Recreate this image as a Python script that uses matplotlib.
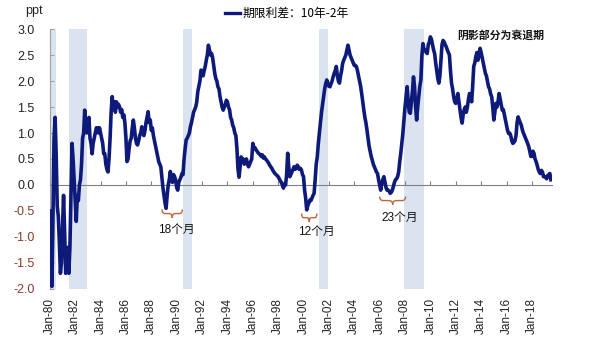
import matplotlib
matplotlib.use("Agg")
import matplotlib.pyplot as plt
from matplotlib.lines import Line2D
from matplotlib.path import Path
from matplotlib.patches import PathPatch
from matplotlib.font_manager import FontProperties

plt.rcParams["font.family"] = ["Liberation Sans", "Noto Sans CJK SC", "DejaVu Sans"]

# Monthly 10y - 2y Treasury spread (percentage points), Jan 1980 onward
start_year = 1980
spread = [
    -0.50, -1.40, -1.95, -0.60, 0.90, 1.30, 0.60, -0.40, -0.60, -1.10, -1.70, -1.50,   # 1980
    -0.80, -0.20, -0.90, -1.70, -1.50, -1.20, -1.70, -1.20, -0.20, 0.80, 0.50, 0.10,   # 1981
    -0.30, -0.70, -0.20, -0.30, 0.00, 0.10, 0.40, 0.90, 1.00, 1.44, 1.10, 1.00,        # 1982
    1.20, 1.30, 0.90, 0.80, 0.60, 0.80, 0.90, 1.00, 1.10, 1.10, 1.00, 1.10,            # 1983
    1.00, 0.90, 0.80, 0.60, 0.60, 0.40, 0.30, 0.25, 0.50, 0.90, 1.40, 1.70,            # 1984
    1.50, 1.60, 1.40, 1.60, 1.50, 1.55, 1.50, 1.40, 1.45, 1.30, 1.35, 1.20,            # 1985
    0.90, 0.45, 0.50, 0.70, 0.85, 0.90, 1.10, 1.25, 1.10, 0.90, 0.80, 0.77,            # 1986
    0.85, 0.95, 1.00, 1.12, 1.00, 0.95, 1.05, 1.20, 1.30, 1.41, 1.20, 1.25,            # 1987
    1.05, 1.10, 0.95, 0.85, 0.74, 0.65, 0.55, 0.45, 0.40, 0.35, 0.15, -0.05,           # 1988
    -0.20, -0.35, -0.45, -0.20, 0.00, 0.10, 0.26, 0.10, 0.05, 0.20, 0.16, 0.10,        # 1989
    -0.05, -0.10, 0.05, 0.10, 0.15, 0.22, 0.20, 0.50, 0.70, 0.87, 0.90, 0.95,          # 1990
    1.00, 1.12, 1.20, 1.30, 1.40, 1.45, 1.50, 1.60, 1.80, 1.90, 2.00, 2.21,            # 1991
    2.20, 2.10, 2.20, 2.28, 2.40, 2.50, 2.69, 2.60, 2.50, 2.53, 2.45, 2.30,            # 1992
    2.15, 2.05, 2.00, 1.89, 1.85, 1.70, 1.60, 1.50, 1.44, 1.50, 1.55, 1.63,            # 1993
    1.60, 1.50, 1.45, 1.30, 1.25, 1.15, 1.10, 1.00, 0.95, 0.70, 0.30, 0.15,            # 1994
    0.35, 0.54, 0.45, 0.50, 0.40, 0.45, 0.50, 0.40, 0.35, 0.40, 0.45, 0.50,            # 1995
    0.80, 0.70, 0.72, 0.68, 0.65, 0.62, 0.60, 0.58, 0.55, 0.58, 0.52, 0.54,            # 1996
    0.50, 0.48, 0.45, 0.42, 0.38, 0.35, 0.32, 0.28, 0.25, 0.22, 0.20, 0.18,            # 1997
    0.16, 0.12, 0.08, 0.05, 0.00, -0.06, 0.02, 0.00, 0.20, 0.61, 0.35, 0.16,           # 1998
    0.20, 0.25, 0.30, 0.35, 0.30, 0.32, 0.38, 0.35, 0.30, 0.32, 0.29, 0.20,            # 1999
    0.16, -0.10, -0.25, -0.48, -0.40, -0.35, -0.29, -0.30, -0.25, -0.20, -0.16, 0.10,  # 2000
    0.40, 0.54, 0.80, 1.00, 1.19, 1.40, 1.55, 1.70, 1.85, 1.95, 2.02, 1.95,            # 2001
    1.90, 1.89, 1.95, 2.00, 2.08, 2.15, 2.20, 2.28, 2.10, 2.00, 1.96, 2.10,            # 2002
    2.20, 2.34, 2.40, 2.45, 2.50, 2.60, 2.69, 2.60, 2.50, 2.45, 2.40, 2.35,            # 2003
    2.30, 2.30, 2.28, 2.20, 2.10, 2.00, 1.90, 1.76, 1.60, 1.45, 1.30, 1.20,            # 2004
    1.06, 0.90, 0.75, 0.65, 0.55, 0.48, 0.40, 0.35, 0.30, 0.25, 0.22, 0.10,            # 2005
    0.00, -0.10, 0.03, 0.10, 0.16, 0.05, -0.05, -0.10, -0.10, -0.12, -0.16, -0.14,     # 2006
    -0.10, -0.03, 0.05, 0.10, 0.12, 0.16, 0.25, 0.45, 0.61, 0.80, 1.00, 1.25,          # 2007
    1.50, 1.70, 1.89, 1.60, 1.40, 1.38, 1.60, 1.80, 2.08, 1.90, 1.50, 1.25,            # 2008
    1.50, 1.70, 1.90, 2.02, 2.50, 2.72, 2.60, 2.60, 2.55, 2.53, 2.70, 2.75,            # 2009
    2.85, 2.80, 2.70, 2.60, 2.53, 2.35, 2.20, 2.05, 1.96, 2.10, 2.40, 2.70,            # 2010
    2.78, 2.75, 2.70, 2.66, 2.60, 2.55, 2.50, 2.20, 1.96, 1.85, 1.70, 1.60,            # 2011
    1.57, 1.65, 1.76, 1.60, 1.45, 1.30, 1.19, 1.35, 1.45, 1.50, 1.40, 1.50,            # 2012
    1.65, 1.76, 1.70, 1.60, 1.90, 2.28, 2.35, 2.47, 2.55, 2.40, 2.50, 2.63,            # 2013
    2.55, 2.45, 2.34, 2.25, 2.15, 2.10, 2.00, 1.89, 1.85, 1.75, 1.70, 1.50,            # 2014
    1.25, 1.40, 1.57, 1.50, 1.60, 1.76, 1.65, 1.55, 1.44, 1.45, 1.35, 1.25,            # 2015
    1.15, 1.05, 0.99, 1.00, 0.95, 0.85, 0.80, 0.82, 0.85, 0.95, 1.20, 1.31,            # 2016
    1.25, 1.20, 1.15, 1.06, 1.00, 0.95, 0.90, 0.85, 0.80, 0.74, 0.65, 0.55,            # 2017
    0.55, 0.65, 0.61, 0.50, 0.45, 0.38, 0.30, 0.25, 0.22, 0.28, 0.25, 0.16,            # 2018
    0.16, 0.15, 0.12, 0.18, 0.20, 0.22, 0.10,                                          # 2019
]

# NBER recessions (start, end) as fractional years
recessions = [(1980.0, 1980.5), (1981.5, 1982.9), (1990.5, 1991.2),
              (2001.2, 2001.9), (2007.9, 2009.5)]

tick_years = list(range(1980, 2019, 2))
tick_labels = [f"Jan-{y % 100:02d}" for y in tick_years]
y_ticks = [3.0, 2.5, 2.0, 1.5, 1.0, 0.5, 0.0, -0.5, -1.0, -1.5, -2.0]

# Inversion spans marked with braces: (x_start, x_end, y_top, label, label_x, label_y)
inversions = [
    (1988.85, 1990.45, -0.47, "18个月", 1989.95, -0.86),
    (1999.85, 2001.05, -0.55, "12个月", 2001.0, -0.91),
    (2006.0, 2008.05, -0.22, "23个月", 2007.6, -0.63),
]

months = [start_year + i / 12 for i in range(len(spread))]

fig = plt.figure(figsize=(5.91, 3.46), dpi=100)
ax = fig.add_axes([0.0843, 0.165, 0.850, 0.751])

for a, b in recessions:
    ax.axvspan(a, b, color="#dae3ef", lw=0, zorder=0)

ax.plot(months, spread, color="#0e1a7a", lw=2.6, solid_joinstyle="round", zorder=3)

ax.set_xlim(1980.0, 2019.6)
ax.set_ylim(-2.0, 3.0)

for s in ["top", "right"]:
    ax.spines[s].set_visible(False)
ax.spines["bottom"].set_position(("data", 0))
ax.spines["bottom"].set_color("#808080")
ax.spines["left"].set_color("#a0a0a0")

ax.set_xticks(tick_years)
ax.set_xticklabels([])
ax.tick_params(axis="x", direction="in", length=3, color="#808080")
ax.set_yticks(y_ticks)
ax.set_yticklabels([f"{v:.1f}" for v in y_ticks], fontsize=9)
ax.tick_params(axis="y", direction="in", length=3, color="#a0a0a0", pad=11)
for lbl, v in zip(ax.get_yticklabels(), y_ticks):
    lbl.set_color("#8a3b2e" if v < 0 else "#222222")

# Date labels sit below the plot area
for yr, lab in zip(tick_years, tick_labels):
    ax.text(yr, -0.035, lab, transform=ax.get_xaxis_transform(), rotation=90,
            ha="center", va="top", fontsize=8.5, color="#222222")

fig.text(0.042, 0.985, "ppt", fontsize=9, color="#222222", va="top")

# Legend
cjk = FontProperties(family=["Noto Sans CJK SC", "DejaVu Sans"], size=8.5)
handle = Line2D([], [], color="#0e1a7a", lw=2.4)
fig.legend([handle], ["期限利差：10年-2年"], loc="center",
           bbox_to_anchor=(0.485, 0.962), frameon=False, prop=cjk,
           handlelength=1.3, handletextpad=0.2)

ax.text(2012.15, 2.88, "阴影部分为衰退期", fontsize=7.8, fontweight="bold",
        family=["Noto Sans CJK SC", "DejaVu Sans"], va="center", ha="left",
        color="#111111")


def brace(x0, x1, ytop, depth=0.16):
    xm = (x0 + x1) / 2
    q = (x1 - x0) * 0.14
    ym = ytop - depth / 2
    yb = ytop - depth
    verts = [(x0, ytop), (x0, ym), (x0 + q, ym), (xm - q, ym),
             (xm, ym), (xm, yb), (xm, ym), (xm + q, ym),
             (x1 - q, ym), (x1, ym), (x1, ytop)]
    codes = [Path.MOVETO, Path.CURVE3, Path.CURVE3, Path.LINETO,
             Path.CURVE3, Path.CURVE3, Path.CURVE3, Path.CURVE3,
             Path.LINETO, Path.CURVE3, Path.CURVE3]
    return PathPatch(Path(verts, codes), fill=False, edgecolor="#c0663a", lw=1.0,
                     zorder=4)


for x0, x1, yt, lab, lx, ly in inversions:
    ax.add_patch(brace(x0, x1, yt))
    ax.text(lx, ly, lab, ha="center", va="center", fontsize=8.5,
            family=["Liberation Sans", "Noto Sans CJK SC"], color="#111111")

fig.savefig("out.png", dpi=100)
